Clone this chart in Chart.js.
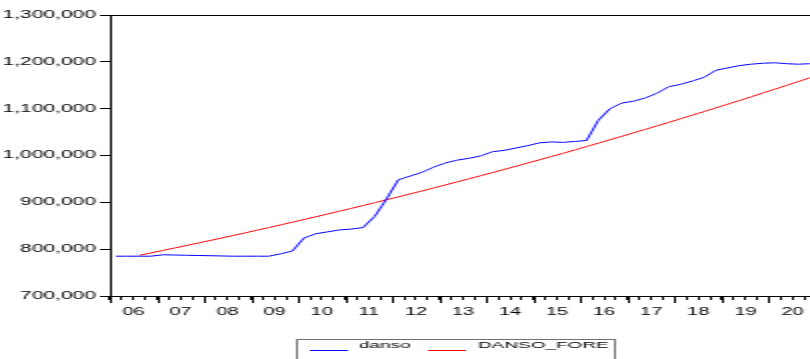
<!DOCTYPE html>
<html>
<head>
<meta charset="utf-8">
<script src="https://cdn.jsdelivr.net/npm/chart.js@4.4.1/dist/chart.umd.min.js"></script>
<style>
    html, body { margin: 0; padding: 0; background: #fff; overflow: hidden; }
    /* the reference is stretched sideways and cut at the right, so draw at half width and scale up */
    #wrap { width: 408px; height: 359px; transform: scaleX(2); transform-origin: 0 0; }
</style>
</head>
<body>
<div id="wrap"><canvas id="dansoChart" width="408" height="359"></canvas></div>
<script>
    const years = ['06', '07', '08', '09', '10', '11', '12', '13', '14', '15', '16', '17', '18', '19', '20'];
    const quarterLabels = [];
    years.forEach(y => { for (let q = 1; q <= 4; q++) quarterLabels.push(y + 'Q' + q); });

    const danso = [
        785000, 785000, 785000, 785000, 788000, 787500, 787000, 786500,
        786000, 785500, 785000, 785000, 785000, 785000, 790000, 796000,
        824000, 833000, 837000, 841000, 843000, 846000, 870000, 907000,
        948000, 956000, 964000, 975000, 984000, 990000, 994000, 999000,
        1008000, 1011000, 1016000, 1021000, 1027000, 1029000, 1028000, 1030000,
        1032000, 1075000, 1100000, 1112000, 1116000, 1123000, 1133000, 1147000,
        1152000, 1159000, 1167000, 1182000, 1187000, 1192000, 1195000, 1197000,
        1198000, 1196000, 1195000, 1196000
    ];

    const dansoFore = [
        null, null, 787000, 792100, 797300, 802500, 807800, 813100,
        818500, 823900, 829400, 834900, 840500, 846100, 851800, 857600,
        863400, 869200, 875100, 881000, 887000, 893100, 899200, 905400,
        911600, 917900, 924200, 930600, 937100, 943600, 950200, 956800,
        963500, 970200, 977000, 983900, 990800, 997700, 1004700, 1011800,
        1019100, 1026300, 1033600, 1041000, 1048400, 1055800, 1063300, 1070900,
        1078500, 1086200, 1093900, 1101700, 1109500, 1117400, 1125400, 1133500,
        1141600, 1149700, 1157900, 1166100
    ];

    const yTicks = [700000, 800000, 900000, 1000000, 1100000, 1200000, 1300000];

    const fontName = '"Liberation Sans", Arial, sans-serif';

    // top and right edges of the plot frame
    const framePlugin = {
        id: 'frame',
        afterDraw(chart) {
            const a = chart.chartArea;
            const ctx = chart.ctx;
            ctx.save();
            ctx.strokeStyle = '#000';
            ctx.lineWidth = 1;
            ctx.beginPath();
            ctx.moveTo(a.left, a.top + 0.5);
            ctx.lineTo(a.right, a.top + 0.5);
            ctx.moveTo(a.right - 0.5, a.top);
            ctx.lineTo(a.right - 0.5, a.bottom);
            ctx.stroke();
            ctx.restore();
        }
    };

    // longer marks at the start of each year
    const yearTickPlugin = {
        id: 'yearTicks',
        afterDraw(chart) {
            const x = chart.scales.x;
            const ctx = chart.ctx;
            ctx.save();
            ctx.strokeStyle = '#000';
            ctx.lineWidth = 1;
            ctx.beginPath();
            for (let i = 0; i <= quarterLabels.length; i += 4) {
                const px = Math.round(x.getPixelForValue(i - 0.5)) + 0.5;
                ctx.moveTo(px, x.top);
                ctx.lineTo(px, x.top + 7);
            }
            ctx.stroke();
            ctx.restore();
        }
    };

    // EViews style legend in a box under the axis
    const legendBoxPlugin = {
        id: 'legendBox',
        afterDraw(chart) {
            const ctx = chart.ctx;
            const sets = chart.data.datasets;
            ctx.save();
            ctx.strokeStyle = '#707070';
            ctx.lineWidth = 1;
            ctx.strokeRect(148.5, 339.5, 159, 30);
            ctx.font = '9.5px ' + fontName;
            ctx.textBaseline = 'alphabetic';
            ctx.fillStyle = '#000';
            const items = [
                { lineX: 155, textX: 179.5 },
                { lineX: 214, textX: 239 }
            ];
            items.forEach((it, k) => {
                ctx.strokeStyle = sets[k].borderColor;
                ctx.beginPath();
                ctx.moveTo(it.lineX, 350.5);
                ctx.lineTo(it.lineX + 19, 350.5);
                ctx.stroke();
                ctx.fillText(sets[k].label, it.textX, 348);
            });
            ctx.restore();
        }
    };

    const ctx = document.getElementById('dansoChart').getContext('2d');
    new Chart(ctx, {
        type: 'line',
        data: {
            labels: quarterLabels,
            datasets: [{
                label: 'danso',
                data: danso,
                borderColor: '#0000FF',
                borderWidth: 1,
                pointRadius: 0,
                tension: 0
            }, {
                label: 'DANSO_FORE',
                data: dansoFore,
                borderColor: '#FF0000',
                borderWidth: 1,
                pointRadius: 0,
                tension: 0
            }]
        },
        options: {
            responsive: false,
            animation: false,
            devicePixelRatio: 1,
            layout: { padding: { top: 15, right: 0, bottom: 38, left: 0 } },
            plugins: {
                legend: { display: false },
                tooltip: { enabled: false }
            },
            scales: {
                x: {
                    type: 'category',
                    offset: true,
                    grid: {
                        offset: true,
                        drawOnChartArea: false,
                        tickLength: 4,
                        tickColor: '#000'
                    },
                    border: { color: '#000', width: 1 },
                    ticks: {
                        autoSkip: false,
                        maxRotation: 0,
                        minRotation: 0,
                        padding: 6,
                        labelOffset: 353 / 120,
                        color: '#000',
                        font: { family: fontName, size: 10 },
                        callback: function (value, index) {
                            return index % 4 === 1 ? years[Math.floor(index / 4)] : '';
                        }
                    },
                    afterFit: function (scale) {
                        scale.height = 25;
                        scale.paddingLeft = 0;
                        scale.paddingRight = 0;
                    }
                },
                y: {
                    min: yTicks[0],
                    max: yTicks[yTicks.length - 1],
                    grid: {
                        drawOnChartArea: false,
                        tickLength: 5,
                        tickColor: '#000'
                    },
                    border: { color: '#000', width: 1 },
                    ticks: {
                        stepSize: yTicks[1] - yTicks[0],
                        padding: 2,
                        color: '#000',
                        font: { family: fontName, size: 10.5 },
                        callback: function (value) { return value.toLocaleString('en-US'); }
                    },
                    afterFit: function (scale) { scale.width = 55; }
                }
            }
        },
        plugins: [framePlugin, yearTickPlugin, legendBoxPlugin]
    });
</script>
</body>
</html>
